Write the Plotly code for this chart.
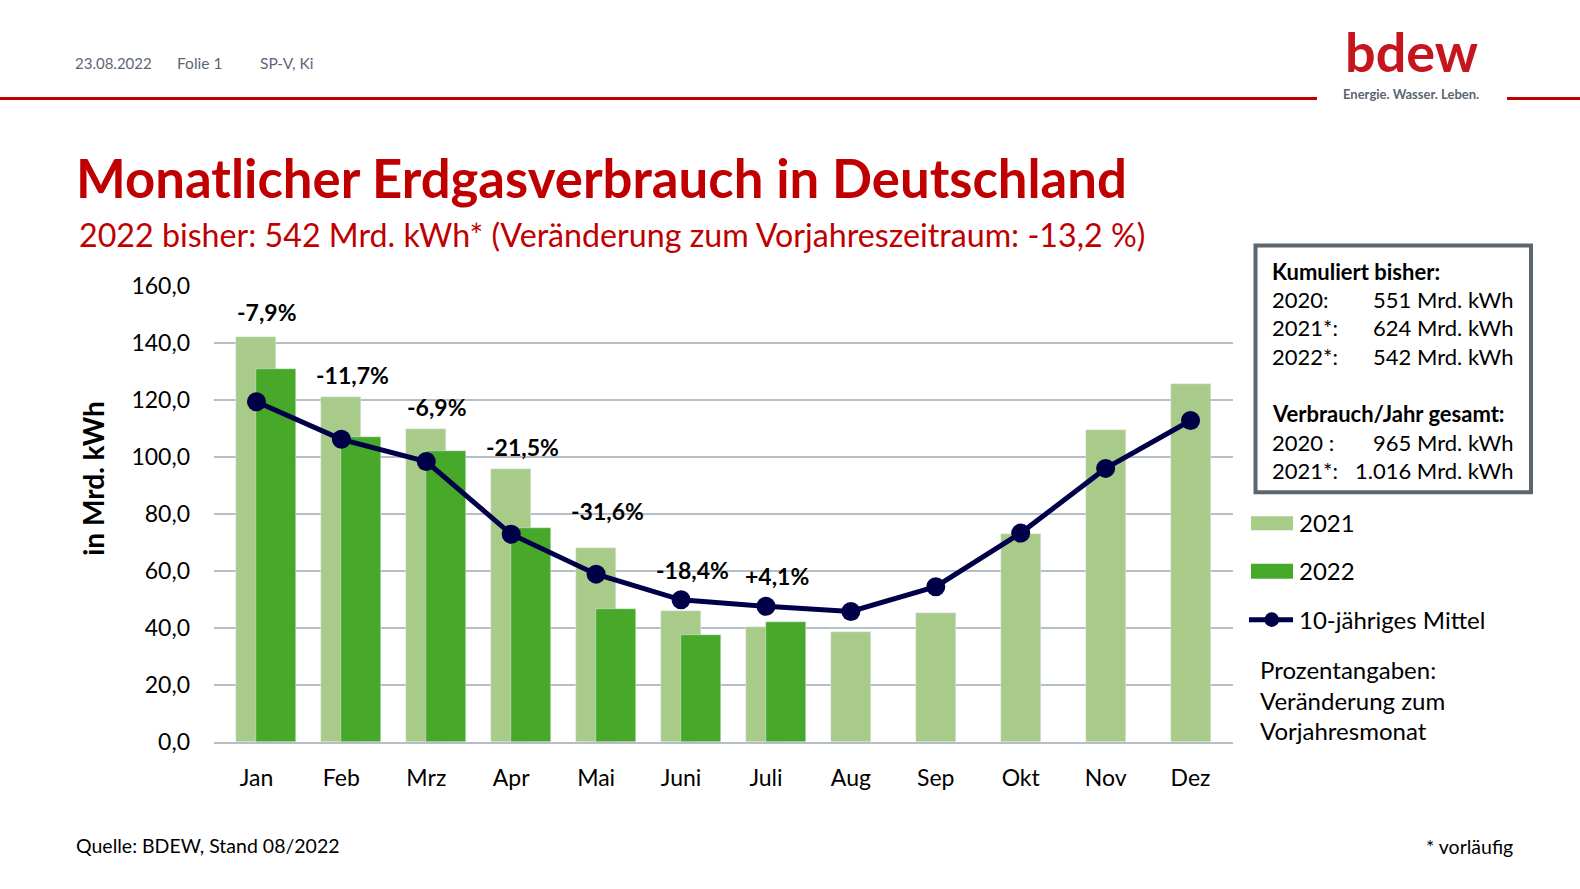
import plotly.graph_objects as go

# ---------------- data ----------------
months = ["Jan", "Feb", "Mrz", "Apr", "Mai", "Juni", "Juli", "Aug", "Sep", "Okt", "Nov", "Dez"]
v2021 = [142.1, 121.1, 109.7, 95.7, 68.0, 46.1, 40.5, 38.7, 45.4, 73.0, 109.5, 125.6]
v2022 = [130.8, 107.1, 102.1, 75.1, 46.7, 37.5, 42.0, None, None, None, None, None]
avg10 = [119.4, 106.2, 98.4, 72.9, 58.9, 49.9, 47.6, 45.8, 54.5, 73.3, 96.0, 112.8]
pct_labels = ["-7,9%", "-11,7%", "-6,9%", "-21,5%", "-31,6%", "-18,4%", "+4,1%"]
pct_label_y = [150.8, 128.7, 117.5, 103.5, 81.1, 60.4, 58.4]
y_ticks = [0, 20, 40, 60, 80, 100, 120, 140, 160]
y_ticktext = ["0,0", "20,0", "40,0", "60,0", "80,0", "100,0", "120,0", "140,0", "160,0"]

box_rows = [("Kumuliert bisher:", "", True),
            ("2020:", "551 Mrd. kWh", False),
            ("2021*:", "624 Mrd. kWh", False),
            ("2022*:", "542 Mrd. kWh", False),
            ("", "", False),
            ("Verbrauch/Jahr gesamt:", "", True),
            ("2020 :", "965 Mrd. kWh", False),
            ("2021*:", "1.016 Mrd. kWh", False)]

# ---------------- styling ----------------
W, H = 1580, 889
L, R, T, B = 214, 1233, 286, 742.5
FONT = "Lato, 'Open Sans', sans-serif"
RED = "#c00000"
C21 = "#a9cb89"
C22 = "#48a82a"
NAVY = "#000048"
GRID = "#b6bfc8"
GREY = "#5a6670"

def X(px):
    return (px - L) / (R - L)

def Y(py):
    return (B - py) / (B - T)

fig = go.Figure()
fig.add_trace(go.Bar(x=months, y=v2021, name="2021", marker_color=C21,
                     width=0.471, offset=-0.2355))
fig.add_trace(go.Bar(x=months, y=v2022, name="2022", marker_color=C22,
                     width=0.471, offset=0.0))
fig.add_trace(go.Scatter(x=months, y=avg10, name="10-jähriges Mittel", mode="lines+markers",
                         line=dict(color=NAVY, width=5),
                         marker=dict(color=NAVY, size=19)))

ann = []
shapes = []

# percentage labels
for m, t, yy in zip(months, pct_labels, pct_label_y):
    ann.append(dict(x=m, y=yy, xref="x", yref="y", text=f"<b>{t}</b>", showarrow=False,
                    xshift=11, xanchor="center", yanchor="middle",
                    font=dict(family=FONT, size=23, color="#000000")))

def txt(px, py, text, size, color="#000000", anchor="left", bold=False, angle=0):
    if bold:
        text = f"<b>{text}</b>"
    ann.append(dict(x=X(px), y=Y(py), xref="paper", yref="paper", text=text, showarrow=False,
                    xanchor=anchor, yanchor="middle", textangle=angle,
                    font=dict(family=FONT, size=size, color=color)))

# header
txt(73, 63, "23.08.2022", 15, "#5b6778")
txt(175, 63, "Folie 1", 15.5, "#5b6778")
txt(258, 63, "SP-V, Ki", 15.5, "#5b6778")
shapes.append(dict(type="line", xref="paper", yref="paper", x0=X(0), x1=X(1317), y0=Y(98.3), y1=Y(98.3),
                   line=dict(color=RED, width=3)))
shapes.append(dict(type="line", xref="paper", yref="paper", x0=X(1507), x1=X(1580), y0=Y(98.3), y1=Y(98.3),
                   line=dict(color=RED, width=3)))
# logo
txt(1411, 51, "bdew", 54, "#c4161c", anchor="center", bold=True)
txt(1411, 94, "Energie. Wasser. Leben.", 13, GREY, anchor="center", bold=True)

# titles
txt(74, 177, "Monatlicher Erdgasverbrauch in Deutschland", 52.7, RED, bold=True)
txt(77, 234, "2022 bisher: 542 Mrd. kWh* (Veränderung zum Vorjahreszeitraum: -13,2 %)", 32.2, RED)

# y axis title
txt(93, 479, "in Mrd. kWh", 28, "#000000", anchor="center", bold=True, angle=-90)

# info box
shapes.append(dict(type="rect", xref="paper", yref="paper", x0=X(1255.5), x1=X(1531), y0=Y(245.5), y1=Y(492.5),
                   line=dict(color=GREY, width=4), fillcolor="rgba(0,0,0,0)"))
row_y = [271, 299.5, 328, 356.5, 385, 414, 442.5, 471]
for (lab, val, bold), yy in zip(box_rows, row_y):
    if lab:
        txt(1270, yy, lab, 22, bold=bold)
    if val:
        txt(1516, yy, val, 22, anchor="right")

# legend
shapes.append(dict(type="rect", xref="paper", yref="paper", x0=X(1251), x1=X(1293), y0=Y(516.5), y1=Y(530.5),
                   line=dict(width=0), fillcolor=C21))
txt(1297, 523, "2021", 24)
shapes.append(dict(type="rect", xref="paper", yref="paper", x0=X(1251), x1=X(1293), y0=Y(564), y1=Y(579),
                   line=dict(width=0), fillcolor=C22))
txt(1297, 571, "2022", 24)
shapes.append(dict(type="line", xref="paper", yref="paper", x0=X(1249), x1=X(1293), y0=Y(620), y1=Y(620),
                   line=dict(color=NAVY, width=5)))
shapes.append(dict(type="circle", xref="paper", yref="paper", x0=X(1264.5), x1=X(1279), y0=Y(612.7), y1=Y(627.3),
                   line=dict(width=0), fillcolor=NAVY))
txt(1297, 620, "10-jähriges Mittel", 24)
txt(1258, 670, "Prozentangaben:", 24)
txt(1258, 701, "Veränderung zum", 24)
txt(1258, 731, "Vorjahresmonat", 24)

# footer
txt(74, 846, "Quelle: BDEW, Stand 08/2022", 19.5)
txt(1515, 847, "* vorläufig", 19.5, anchor="right")

fig.update_layout(
    width=W, height=H,
    margin=dict(l=L, r=W - R, t=T, b=H - B, pad=0),
    paper_bgcolor="white", plot_bgcolor="white",
    barmode="overlay", bargap=0,
    showlegend=False,
    annotations=ann, shapes=shapes,
    font=dict(family=FONT, color="#000000"),
)
fig.update_xaxes(type="category", range=[-0.5, 11.5], showgrid=False, showline=True,
                 linecolor=GRID, linewidth=2, ticks="", ticklabelstandoff=14,
                 tickfont=dict(family=FONT, size=23, color="#000000"))
fig.update_yaxes(range=[0, 160], tickvals=y_ticks, ticktext=y_ticktext, showgrid=True,
                 gridcolor=GRID, gridwidth=2, zeroline=False, showline=False, ticks="",
                 ticklabelstandoff=23, tickfont=dict(family=FONT, size=23, color="#000000"))

fig.write_html("out.html")
